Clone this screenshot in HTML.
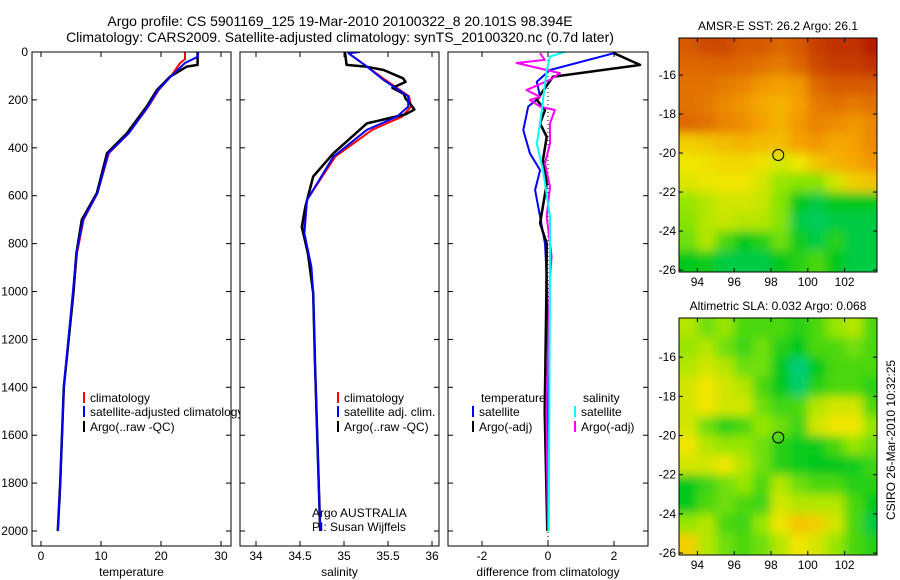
<!DOCTYPE html>
<html><head><meta charset="utf-8">
<style>
html,body{margin:0;padding:0;background:#fff;}
svg{display:block;font-family:"Liberation Sans",sans-serif;}
text{font-size:12px;fill:#000;}
</style></head>
<body>
<svg id="chart" width="900" height="580" viewBox="0 0 900 580" xmlns="http://www.w3.org/2000/svg">
<defs>
<filter id="blur" x="0" y="0" width="1" height="1"><feGaussianBlur stdDeviation="5" edgeMode="duplicate"/></filter>
<clipPath id="clipMap1"><rect x="679" y="38" width="198" height="234"/></clipPath>
<clipPath id="clipMap2"><rect x="679" y="318" width="198" height="237"/></clipPath>
<clipPath id="clipP1"><rect x="32" y="52" width="199" height="494"/></clipPath>
<clipPath id="clipP2"><rect x="240" y="52" width="199" height="494"/></clipPath>
<clipPath id="clipP3"><rect x="448" y="52" width="200" height="494"/></clipPath>
</defs>
<text x="340" y="26" text-anchor="middle" style="font-size:14px">Argo profile: CS 5901169_125 19-Mar-2010 20100322_8 20.101S 98.394E</text>
<text x="340" y="42" text-anchor="middle" style="font-size:14px">Climatology: CARS2009. Satellite-adjusted climatology: synTS_20100320.nc (0.7d later)</text>
<g id="g1"></g>
<g id="g2"></g>
<g id="g3"></g>
<g id="m1"></g>
<g id="m2"></g>
<text transform="translate(895,440) rotate(-90)" text-anchor="middle">CSIRO 26-Mar-2010 10:32:25</text>
</svg>
<script>
// ---------- data ----------
const depthTicks=[0,200,400,600,800,1000,1200,1400,1600,1800,2000];
const tempTicks=[0,10,20,30];
const salTicks=[34,34.5,35,35.5,36];
const diffTicks=[-2,0,2];
const argoTD=[0,54,61,103,159,228,340,423,590,700,840,1006,1400,1800,2000];
const argoT=[26.1,26.1,24.3,21.5,19.3,17.6,14.3,11,9.3,6.8,5.9,5.4,3.8,3.2,2.8];
const climTD=[0,30,46,103,159,228,340,423,590,700,840,1006,1400,1880];
const climT=[24.0,24.0,23.2,21.6,19.6,17.9,14.6,11.3,9.4,7.1,6.0,5.4,3.8,3.1];
const satTD=[0,20,46,103,159,228,340,423,590,700,840,1006,1400,1800,2000];
const satT=[26.2,26.1,24.0,21.6,19.5,17.8,14.6,11.2,9.4,7.0,5.9,5.3,3.8,3.2,2.8];
const argoSD=[0,54,62,75,110,125,150,175,195,215,240,260,298,423,520,647,730,840,1006,1300,2000];
const argoS=[35.01,35.03,35.26,35.45,35.67,35.7,35.55,35.68,35.7,35.75,35.8,35.7,35.26,34.88,34.65,34.56,34.52,34.59,34.65,34.67,34.73];
const climSD=[5,61,117,185,228,270,325,437,618,757,897,1006,1300,1560];
const climS=[35.05,35.26,35.47,35.74,35.76,35.66,35.32,34.9,34.58,34.54,34.62,34.65,34.67,34.69];
const satSD=[0,5,61,117,185,228,270,325,437,618,757,897,1006,1300,2000];
const satS=[35.18,35.05,35.26,35.45,35.73,35.73,35.6,35.26,34.88,34.58,34.55,34.63,34.65,34.67,34.73];
const dD_tsat=[5,75,124,187,228,326,423,493,576,688,799,938,1300,2000];
const d_tsat=[2.0,0.06,-0.34,-0.24,-0.6,-0.75,-0.55,-0.24,-0.39,-0.24,-0.09,-0.04,0,0];
const dD_targo=[5,54,103,200,242,298,354,451,550,715,799,1000,1500,2000];
const d_targo=[2.0,2.79,0.15,-0.34,-0.09,-0.24,-0.04,-0.15,-0.04,-0.24,-0.04,-0.05,-0.1,-0.02];
const dD_sargo=[5,33,46,88,116,159,187,200,228,242,298,382,465,562,688,854,938,1500,2000];
const d_sargo=[-0.24,-0.1,-0.95,0.36,0.06,-0.65,-0.24,-0.55,-0.24,0.21,0.06,0.06,-0.09,0.06,-0.04,0.11,0.06,-0.05,0];
const dD_ssat=[0,19,75,298,382,493,688,938,1500,2000];
const d_ssat=[0.5,0.06,-0.04,-0.24,-0.34,-0.15,0.06,0.06,0.04,0.02];
const lonTicks=[94,96,98,100,102];
const latTicks=[-16,-18,-20,-22,-24,-26];
const mapLons=[93.5,94.5,95.5,96.5,97.5,98.5,99.5,100.5,101.5,102.5,103.5];
const mapLats=[-14.5,-15.5,-16.5,-17.5,-18.5,-19.5,-20.5,-21.5,-22.5,-23.5,-24.5,-25.5];
const sstGrid=[
[0.85,0.88,0.88,0.85,0.85,0.82,0.85,0.9,0.92,0.92,0.95],
[0.82,0.82,0.83,0.82,0.8,0.78,0.82,0.88,0.9,0.9,0.92],
[0.8,0.8,0.78,0.76,0.72,0.7,0.72,0.82,0.85,0.85,0.85],
[0.8,0.78,0.75,0.72,0.68,0.66,0.7,0.78,0.8,0.78,0.8],
[0.82,0.8,0.76,0.74,0.7,0.66,0.72,0.76,0.74,0.72,0.75],
[0.6,0.62,0.64,0.66,0.64,0.64,0.7,0.72,0.68,0.7,0.75],
[0.55,0.56,0.58,0.58,0.56,0.5,0.55,0.62,0.66,0.68,0.72],
[0.52,0.54,0.55,0.55,0.5,0.4,0.38,0.38,0.5,0.6,0.62],
[0.4,0.45,0.5,0.5,0.48,0.38,0.2,0.15,0.2,0.2,0.2],
[0.38,0.45,0.48,0.45,0.45,0.38,0.15,0.12,0.15,0.15,0.15],
[0.35,0.45,0.3,0.2,0.25,0.35,0.22,0.15,0.25,0.15,0.15],
[0.2,0.22,0.15,0.15,0.15,0.2,0.25,0.3,0.2,0.15,0.15]];
const slaGrid=[
[0.45,0.35,0.4,0.3,0.3,0.3,0.25,0.3,0.4,0.45,0.3],
[0.4,0.45,0.35,0.28,0.35,0.25,0.2,0.3,0.3,0.35,0.3],
[0.45,0.5,0.45,0.35,0.35,0.2,0.08,0.2,0.3,0.3,0.3],
[0.5,0.55,0.5,0.45,0.3,0.2,0.1,0.25,0.3,0.3,0.25],
[0.5,0.55,0.5,0.5,0.35,0.28,0.3,0.45,0.5,0.5,0.3],
[0.5,0.35,0.25,0.3,0.4,0.35,0.28,0.5,0.55,0.55,0.4],
[0.55,0.45,0.4,0.4,0.35,0.25,0.22,0.22,0.3,0.4,0.35],
[0.5,0.5,0.55,0.45,0.35,0.25,0.22,0.2,0.2,0.22,0.28],
[0.2,0.28,0.35,0.4,0.3,0.45,0.35,0.3,0.3,0.25,0.25],
[0.2,0.3,0.35,0.3,0.28,0.5,0.45,0.45,0.45,0.3,0.2],
[0.4,0.45,0.3,0.28,0.4,0.55,0.62,0.6,0.5,0.3,0.15],
[0.6,0.45,0.35,0.3,0.35,0.45,0.55,0.5,0.4,0.3,0.25]];
const argoLon=98.394, argoLat=-20.101;

// ---------- helpers ----------
const NS="http://www.w3.org/2000/svg";
function mk(tag,parent,attrs){const e=document.createElementNS(NS,tag);for(const k in attrs)e.setAttribute(k,attrs[k]);parent.appendChild(e);return e;}
const yD=d=>52+d*0.2395;
const xT=t=>41+t*6;
const xS=s=>256+(s-34)*88;
const xDf=v=>548+v*33;

function panel(g,x0,w,xs,ticks,label,clip){
  const box=mk('rect',g,{x:x0,y:52,width:w,height:494,fill:'#fff',stroke:'none'});
  
  
  ticks.forEach(t=>{
    const x=xs(t);
    mk('line',g,{x1:x,y1:546,x2:x,y2:541,stroke:'#000'});
    mk('line',g,{x1:x,y1:52,x2:x,y2:57,stroke:'#000'});
    const tl=mk('text',g,{x:x,y:560,'text-anchor':'middle'});tl.textContent=t;
    
    
  });
  depthTicks.forEach(d=>{
    mk('line',g,{x1:x0,y1:yD(d),x2:x0+5,y2:yD(d),stroke:'#000'});
    mk('line',g,{x1:x0+w,y1:yD(d),x2:x0+w-5,y2:yD(d),stroke:'#000'});
  });
  const xl=mk('text',g,{x:x0+w/2,y:576,'text-anchor':'middle'});xl.textContent=label;
  
  
  return mk('g',g,{'clip-path':'url(#'+clip+')'});
}
function frame(g,x0,w){const r=mk('rect',g,{x:x0,y:52,width:w,height:494,fill:'none',stroke:'#000'});}
function line(g,ds,vs,xs,color,w,name){
  const pts=ds.map((d,i)=>xs(vs[i]).toFixed(1)+','+yD(d).toFixed(1)).join(' ');
  const p=mk('polyline',g,{points:pts,fill:'none',stroke:color,'stroke-width':w,'stroke-linejoin':'round'});
  
  
}
function legend(g,x,y,color,txt,name){
  mk('line',g,{x1:x,y1:y-10,x2:x,y2:y+1,stroke:color,'stroke-width':2});
  const t=mk('text',g,{x:x+6,y:y});t.textContent=txt;
  
  
}

// Panel 1 temperature
const g1=document.getElementById('g1');
const c1=panel(g1,32,199,xT,tempTicks,'temperature','clipP1');
depthTicks.forEach(d=>{const t=mk('text',g1,{x:28,y:yD(d)+4,'text-anchor':'end'});t.textContent=d;
  
  });
line(c1,climTD,climT,xT,'#ff0000',2,'temp-climatology-line');
line(c1,argoTD,argoT,xT,'#000',2.5,'temp-argo-line');
line(c1,satTD,satT,xT,'#0000ff',2,'temp-satellite-line');
legend(g1,84,402,'#ff0000','climatology','legend-climatology');
legend(g1,84,416,'#0000ff','satellite-adjusted climatology','legend-satellite-adjusted');
legend(g1,84,431,'#000','Argo(..raw -QC)','legend-argo');
frame(g1,32,199);

// Panel 2 salinity
const g2=document.getElementById('g2');
const c2=panel(g2,240,199,xS,salTicks,'salinity','clipP2');
line(c2,climSD,climS,xS,'#ff0000',2,'sal-climatology-line');
line(c2,argoSD,argoS,xS,'#000',2.5,'sal-argo-line');
line(c2,satSD,satS,xS,'#0000ff',2,'sal-satellite-line');
legend(g2,338,402,'#ff0000','climatology','legend-climatology');
legend(g2,338,416,'#0000ff','satellite adj. clim.','legend-satellite-adj');
legend(g2,338,431,'#000','Argo(..raw -QC)','legend-argo');
let t=mk('text',g2,{x:312,y:517});t.textContent='Argo AUSTRALIA';


t=mk('text',g2,{x:312,y:531});t.textContent='PI: Susan Wijffels';


frame(g2,240,199);

// Panel 3 difference
const g3=document.getElementById('g3');
const c3=panel(g3,448,200,xDf,diffTicks,'difference from climatology','clipP3');
mk('line',c3,{x1:xDf(0),y1:52,x2:xDf(0),y2:546,stroke:'#000','stroke-dasharray':'1,3'});
line(c3,dD_tsat,d_tsat,xDf,'#0000ff',2,'temp-satellite-diff-line');
line(c3,dD_targo,d_targo,xDf,'#000',2.5,'temp-argo-diff-line');
line(c3,dD_sargo,d_sargo,xDf,'#ff00ff',2,'sal-argo-diff-line');
line(c3,dD_ssat,d_ssat,xDf,'#00ffff',2,'sal-satellite-diff-line');
t=mk('text',g3,{x:481,y:402});t.textContent='temperature';


t=mk('text',g3,{x:583,y:402});t.textContent='salinity';


legend(g3,473,416,'#0000ff','satellite','legend-temp-satellite');
legend(g3,473,431,'#000','Argo(-adj)','legend-temp-argo');
legend(g3,575,416,'#00ffff','satellite','legend-sal-satellite');
legend(g3,575,431,'#ff00ff','Argo(-adj)','legend-sal-argo');
frame(g3,448,200);

// ---------- maps ----------
const stops=[[0,[0,210,180]],[0.2,[0,200,30]],[0.4,[150,230,0]],[0.55,[240,230,0]],[0.7,[245,160,0]],[0.85,[215,90,0]],[1,[165,0,0]]];
function cmap(v){for(let i=1;i<stops.length;i++){if(v<=stops[i][0]){const a=stops[i-1],b=stops[i],f=(v-a[0])/(b[0]-a[0]);return 'rgb('+a[1].map((c,k)=>Math.round(c+(b[1][k]-c)*f)).join(',')+')';}}return 'rgb(165,0,0)';}
function map(g,top,h,latTop,grid,title,clip){
  const x0=679,w=198,lon0=93,lonScale=18.4,latScale=h/(26.1-latTop);
  const xL=lon=>x0+(lon-lon0)*lonScale;
  const yL=lat=>top+(-lat-latTop)*latScale;
  const cg=mk('g',g,{'clip-path':'url(#'+clip+')'});
  const bg=mk('g',cg,{filter:'url(#blur)'});
  grid.forEach((row,i)=>row.forEach((v,j)=>{
    const c=mk('rect',bg,{x:xL(mapLons[j]-0.5)-(j===0?10:0),y:yL(mapLats[i]+0.5)-(i===0?10:0),width:lonScale+0.5+(j===0||j===row.length-1?10:0),height:latScale+0.5+(i===0||i===grid.length-1?10:0),fill:cmap(v)});
    
    
  }));
  const ci=mk('circle',g,{cx:xL(argoLon),cy:yL(argoLat),r:5.5,fill:'none',stroke:'#000','stroke-width':1});
  
  
  const fr=mk('rect',g,{x:x0,y:top,width:w,height:h,fill:'none',stroke:'#000'});
  
  
  lonTicks.forEach(l=>{const x=xL(l);mk('line',g,{x1:x,y1:top+h,x2:x,y2:top+h-4,stroke:'#000'});mk('line',g,{x1:x,y1:top,x2:x,y2:top+4,stroke:'#000'});
    const tt=mk('text',g,{x:x,y:top+h+14,'text-anchor':'middle'});tt.textContent=l;
    
    });
  latTicks.forEach(l=>{const y=yL(l);mk('line',g,{x1:x0,y1:y,x2:x0+4,y2:y,stroke:'#000'});mk('line',g,{x1:x0+w,y1:y,x2:x0+w-4,y2:y,stroke:'#000'});
    const tt=mk('text',g,{x:x0-3,y:y+4,'text-anchor':'end'});tt.textContent=l;
    
    });
  const ti=mk('text',g,{x:x0+w/2,y:top-8,'text-anchor':'middle'});ti.textContent=title;
  
  
}
map(document.getElementById('m1'),38,234,14.1,sstGrid,'AMSR-E SST: 26.2 Argo: 26.1','clipMap1');
map(document.getElementById('m2'),318,237,14.0,slaGrid,'Altimetric SLA: 0.032 Argo: 0.068','clipMap2');
</script>
</body></html>
